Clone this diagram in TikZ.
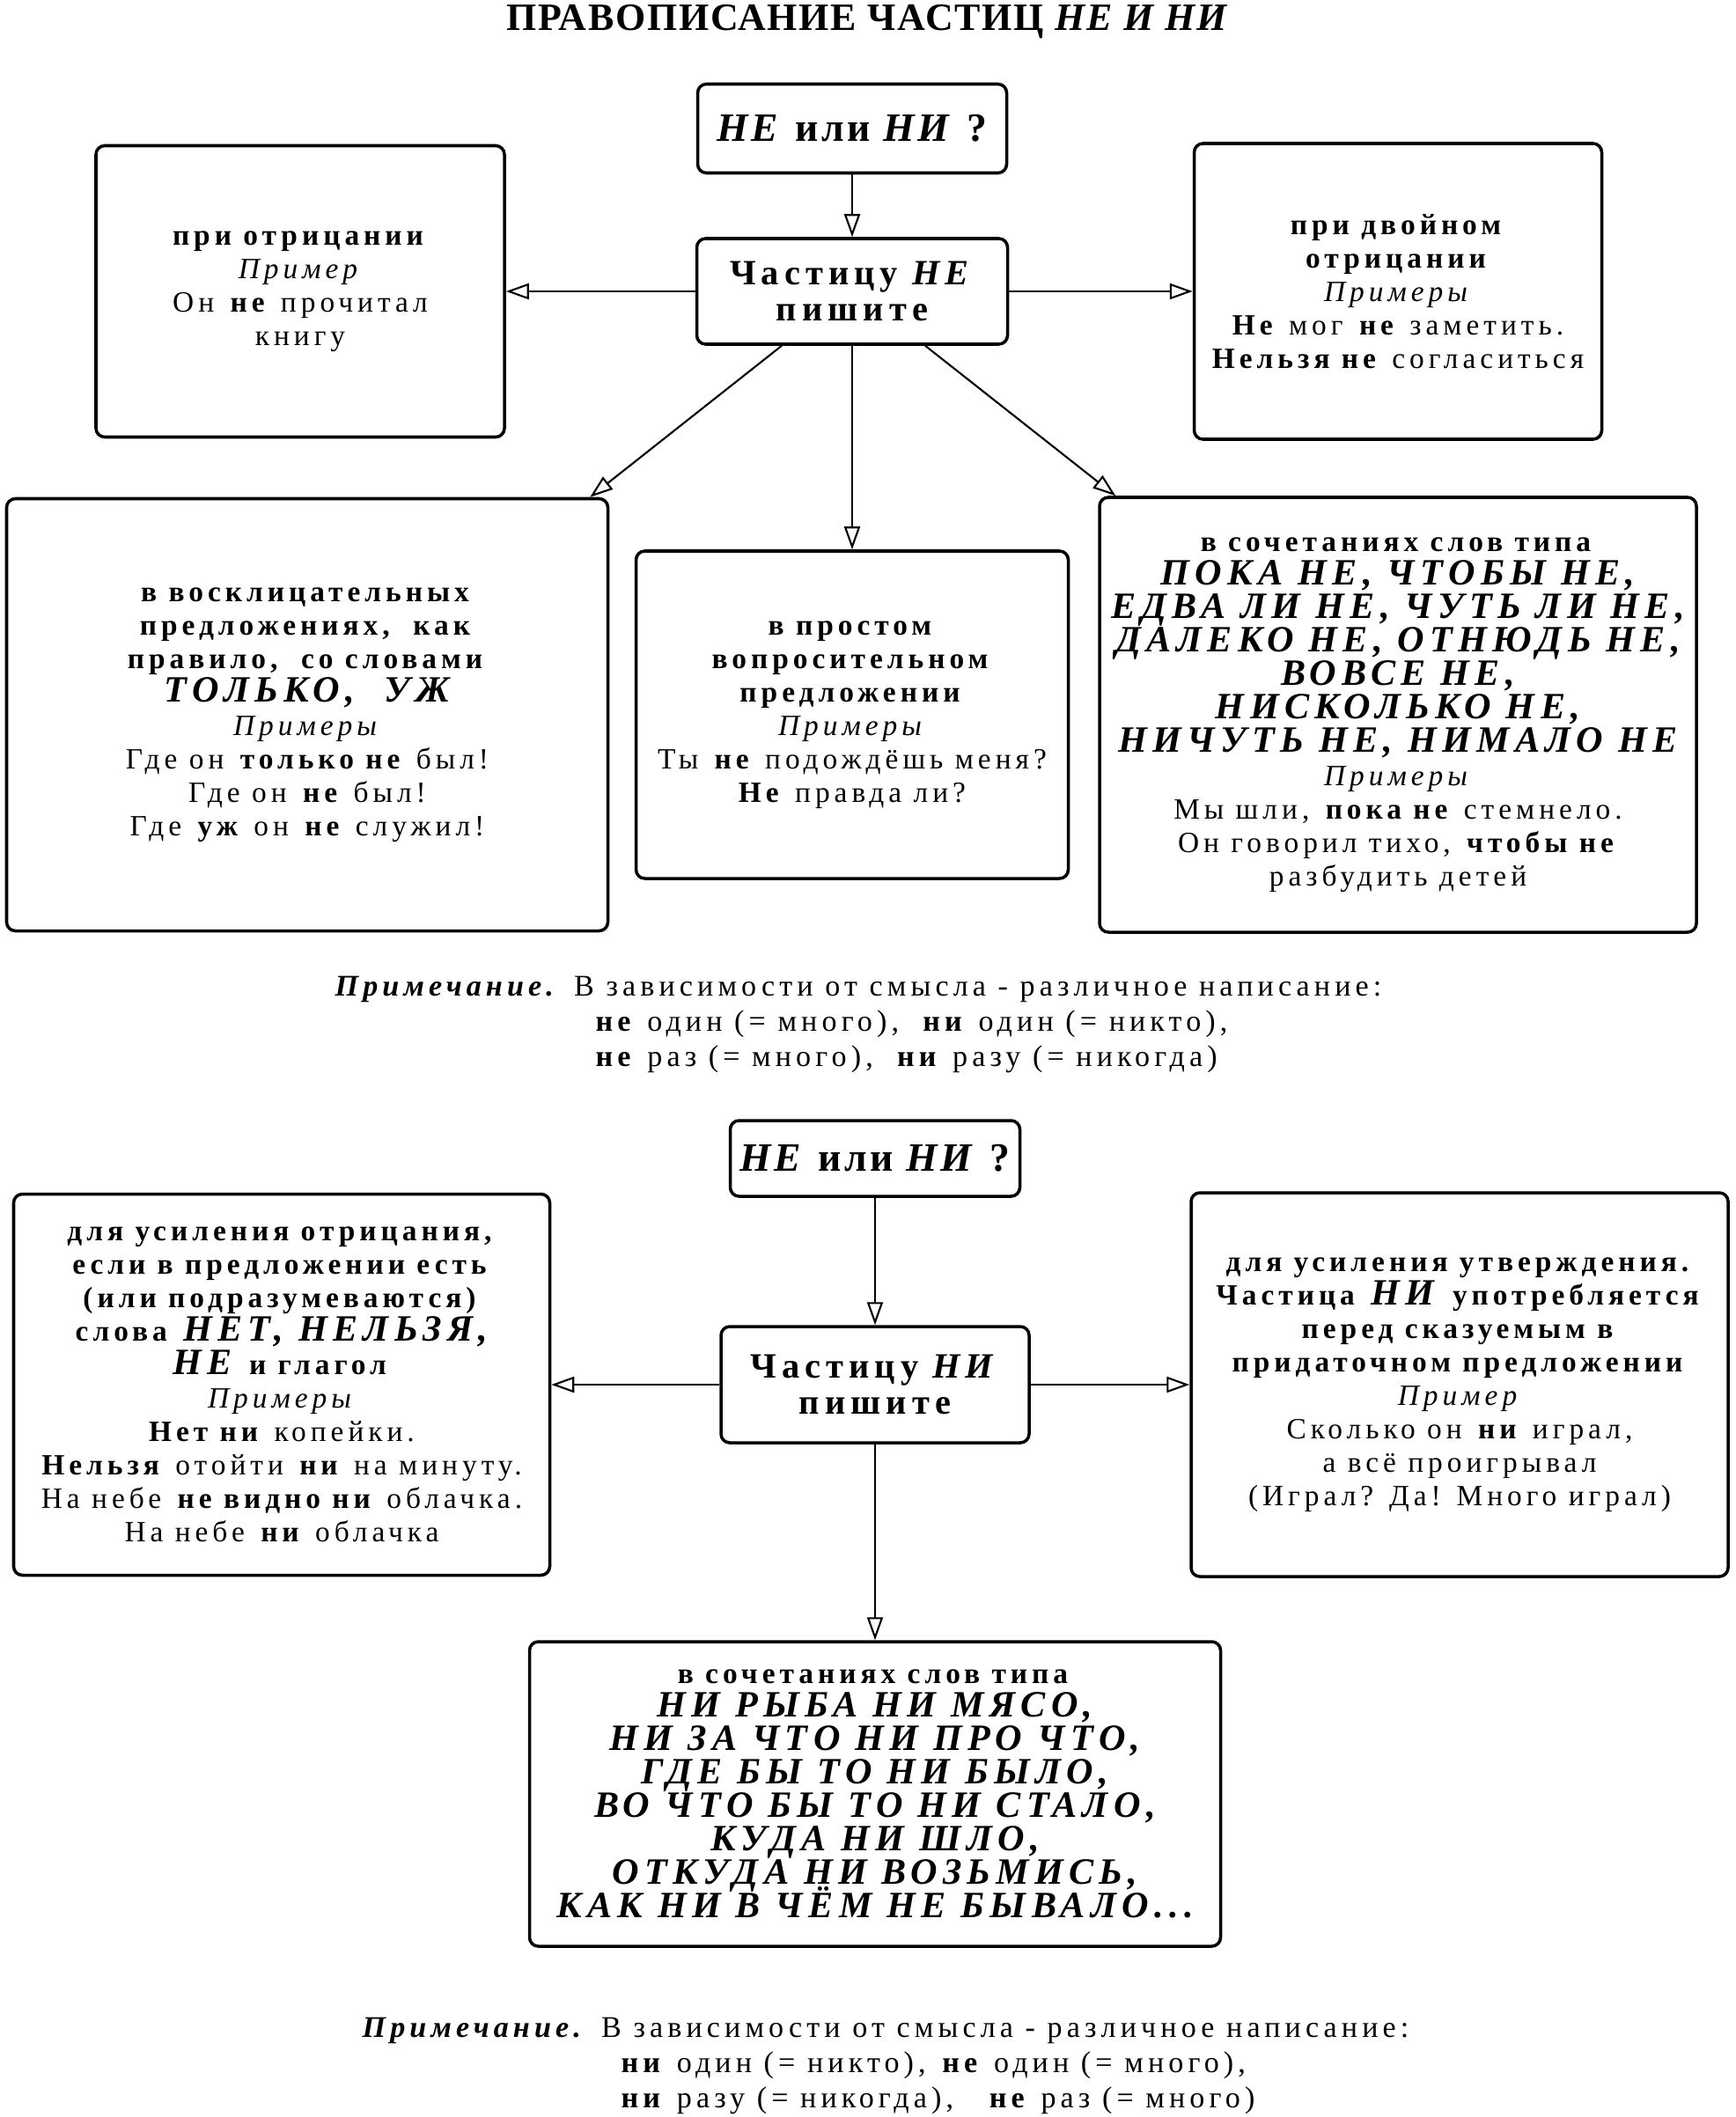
\documentclass[tikz,border=0pt]{standalone}
\usepackage{fontspec}
\setmainfont{Liberation Serif}[LetterSpace=15]
\usetikzlibrary{arrows.meta,positioning}

\newcommand{\boxfont}{\fontsize{9.5}{10.8}\selectfont\lineskiplimit=-4pt}
\newcommand{\bigcaps}[1]{{\fontsize{12}{10.8}\selectfont\bfseries\itshape #1}}
\newcommand{\bfit}[1]{\textbf{\textit{#1}}}

\tikzset{%
	box/.style      = {draw, rectangle, rounded corners=1mm, line width=1pt, align=center, inner sep=2pt, font=\boxfont},
	askbox/.style   = {box, font=\fontsize{13}{15}\selectfont\bfseries\addfontfeatures{LetterSpace=8}}, % question
	rulebox/.style  = {box, font=\fontsize{11.5}{11.5}\selectfont\bfseries}, % rule
	notetext/.style = {align=left, inner sep=0pt, font=\fontsize{9.7}{11.4}\selectfont},
	arrow/.style    = {line width=0.6pt, -{Triangle[open, length=2.6mm, width=1.8mm]}},
}

\begin{document}
\begin{tikzpicture}
	\useasboundingbox (0,0) rectangle (19.72,-24.05);
	\node[font=\fontsize{12.5}{14}\selectfont\bfseries\addfontfeatures{LetterSpace=4}] (title) at (9.86,-0.25) {ПРАВОПИСАНИЕ ЧАСТИЦ \textit{НЕ И НИ}};
	
	% particle NE
	\node[askbox, minimum width=3.51cm, minimum height=1.01cm] (q1) at (9.68,-1.46) {\textit{НЕ} или \textit{НИ} ?};
	\node[rulebox, below of=q1, node distance=1.85cm, minimum width=3.53cm, minimum height=1.2cm] (ne) {Частицу \textit{НЕ}\\ пишите};
	\node[box, left of=ne, node distance=6.27cm, minimum width=4.64cm, minimum height=3.31cm] (neg) {\textbf{при отрицании}\\ \textit{Пример}\\ Он \textbf{не} прочитал\\ книгу};
	\node[box, right of=ne, node distance=6.2cm, minimum width=4.63cm, minimum height=3.36cm] (dbl) {\textbf{при двойном}\\ \textbf{отрицании}\\ \textit{Примеры}\\ \textbf{Не} мог \textbf{не} заметить.\\ \textbf{Нельзя не} согласиться};
	\node[box, below of=ne, node distance=4.81cm, minimum width=4.91cm, minimum height=3.72cm] (ques) {\textbf{в простом}\\ \textbf{вопросительном}\\ \textbf{предложении}\\ \textit{Примеры}\\ Ты \textbf{не} подождёшь меня?\\ \textbf{Не} правда ли?};
	\node[box, left of=ques, node distance=6.19cm, minimum width=6.83cm, minimum height=4.91cm] (excl) {\textbf{в восклицательных}\\ \textbf{предложениях,\ \ как}\\ \textbf{правило,\ \ со словами}\\ \bigcaps{ТОЛЬКО,\ \ УЖ}\\ \textit{Примеры}\\ Где он \textbf{только не} был!\\ Где он \textbf{не} был!\\ Где \textbf{уж} он \textbf{не} служил!};
	\node[box, right of=ques, node distance=6.2cm, minimum width=6.78cm, minimum height=4.94cm] (comb) {\textbf{в сочетаниях слов типа}\\ \bigcaps{ПОКА НЕ, ЧТОБЫ НЕ,}\\ \bigcaps{ЕДВА ЛИ НЕ, ЧУТЬ ЛИ НЕ,}\\ \bigcaps{ДАЛЕКО НЕ, ОТНЮДЬ НЕ,}\\ \bigcaps{ВОВСЕ НЕ,}\\ \bigcaps{НИСКОЛЬКО НЕ,}\\ \bigcaps{НИЧУТЬ НЕ, НИМАЛО НЕ}\\ \textit{Примеры}\\ Мы шли, \textbf{пока не} стемнело.\\ Он говорил тихо, \textbf{чтобы не}\\ разбудить детей};
	
	\draw[arrow] (q1) -- (ne);
	\draw[arrow] (ne) -- (neg);
	\draw[arrow] (ne) -- (dbl);
	\draw[arrow] (ne) -- (ques);
	\draw[arrow] ([xshift=-0.8cm]ne.south) -- ([xshift=-0.22cm]excl.north east);
	\draw[arrow] ([xshift=0.83cm]ne.south) -- ([xshift=0.2cm]comb.north west);
	
	\node[notetext, anchor=north west] (note1) at (3.80,-11.08) {\bfit{Примечание.} В зависимости от смысла - различное написание:\\ \hspace*{2.96cm}\textbf{не} один (= много),\ \ \textbf{ни} один (= никто),\\ \hspace*{2.96cm}\textbf{не} раз (= много),\ \ \textbf{ни} разу (= никогда)};
	
	% particle NI
	\node[askbox, minimum width=3.29cm, minimum height=0.86cm] (q2) at (9.94,-13.16) {\textit{НЕ} или \textit{НИ} ?};
	\node[rulebox, below of=q2, node distance=2.57cm, minimum width=3.5cm, minimum height=1.32cm] (ni) {Частицу \textit{НИ}\\ пишите};
	\node[box, left of=ni, node distance=6.74cm, minimum width=6.09cm, minimum height=4.33cm] (intens) {\textbf{для усиления отрицания,}\\ \textbf{если в предложении есть}\\ \textbf{(или подразумеваются)}\\ \textbf{слова} \bigcaps{НЕТ, НЕЛЬЗЯ,}\\ \bigcaps{НЕ} \textbf{и глагол}\\ \textit{Примеры}\\ \textbf{Нет ни} копейки.\\ \textbf{Нельзя} отойти \textbf{ни} на минуту.\\ На небе \textbf{не видно ни} облачка.\\ На небе \textbf{ни} облачка};
	\node[box, right of=ni, node distance=6.64cm, minimum width=6.1cm, minimum height=4.36cm] (affirm) {\textbf{для усиления утверждения.}\\ \textbf{Частица} \bigcaps{НИ} \textbf{употребляется}\\ \textbf{перед сказуемым в}\\ \textbf{придаточном предложении}\\ \textit{Пример}\\ Сколько он \textbf{ни} играл,\\ а всё проигрывал\\ (Играл? Да! Много играл)};
	\node[box, below of=ni, node distance=4.65cm, minimum width=7.85cm, minimum height=3.46cm] (comb2) {\textbf{в сочетаниях слов типа}\\ \bigcaps{НИ РЫБА НИ МЯСО,}\\ \bigcaps{НИ ЗА ЧТО НИ ПРО ЧТО,}\\ \bigcaps{ГДЕ БЫ ТО НИ БЫЛО,}\\ \bigcaps{ВО ЧТО БЫ ТО НИ СТАЛО,}\\ \bigcaps{КУДА НИ ШЛО,}\\ \bigcaps{ОТКУДА НИ ВОЗЬМИСЬ,}\\ \bigcaps{КАК НИ В ЧЁМ НЕ БЫВАЛО...}};
	
	\draw[arrow] (q2) -- (ni);
	\draw[arrow] (ni) -- (intens);
	\draw[arrow] (ni) -- (affirm);
	\draw[arrow] (ni) -- (comb2);
	
	\node[notetext, anchor=north west] (note2) at (4.11,-22.91) {\bfit{Примечание.} В зависимости от смысла - различное написание:\\ \hspace*{2.94cm}\textbf{ни} один (= никто), \textbf{не} один (= много),\\ \hspace*{2.94cm}\textbf{ни} разу (= никогда),\ \ \ \textbf{не} раз (= много)};
\end{tikzpicture}
\end{document}
